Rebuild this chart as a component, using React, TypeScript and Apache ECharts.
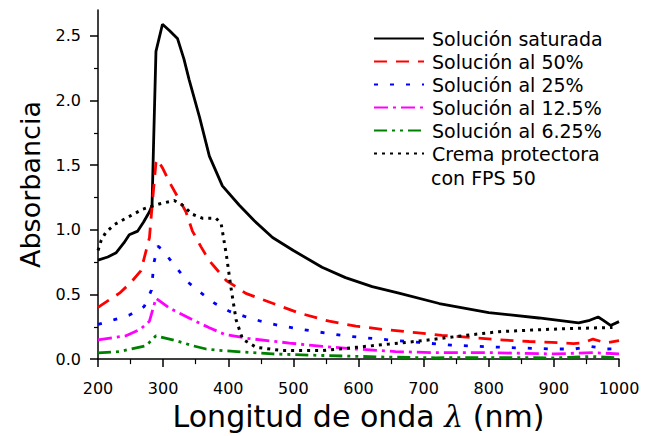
import React, { useEffect, useRef } from "react";
import * as echarts from "echarts";

// Solución saturada
const satX = [200, 215, 228, 240, 248, 261, 270, 279, 283, 285.5, 289, 299, 310, 322, 332, 340, 356, 371, 391, 417, 440, 468, 500, 544, 580, 621, 662, 724, 800, 877, 938, 955, 968, 976, 987, 1000];
const satY = [0.765, 0.79, 0.823, 0.9, 0.962, 0.99, 1.06, 1.14, 1.19, 1.7, 2.38, 2.59, 2.54, 2.48, 2.32, 2.16, 1.87, 1.57, 1.34, 1.19, 1.07, 0.94, 0.84, 0.71, 0.63, 0.56, 0.51, 0.43, 0.36, 0.318, 0.28, 0.3, 0.326, 0.3, 0.26, 0.29];
// Solución al 50%
const s50X = [200, 233, 250, 266, 279, 284, 289, 291, 300, 310, 335, 345, 358, 371, 397, 427, 468, 509, 555, 596, 637, 688, 728, 774, 816, 862, 897, 930, 945, 960, 970, 980, 1000];
const s50Y = [0.4, 0.51, 0.59, 0.684, 0.94, 1.24, 1.52, 1.545, 1.47, 1.366, 1.14, 0.99, 0.87, 0.76, 0.608, 0.508, 0.432, 0.356, 0.293, 0.255, 0.23, 0.205, 0.184, 0.167, 0.149, 0.136, 0.129, 0.12, 0.125, 0.155, 0.14, 0.125, 0.142];
// Solución al 25%
const s25X = [200, 225, 248, 271, 282, 286, 292, 300, 310, 338, 356, 379, 402, 425, 450, 478, 529, 581, 634, 693, 742, 795, 849, 903, 931, 956, 982, 1000];
const s25Y = [0.268, 0.305, 0.34, 0.407, 0.533, 0.748, 0.874, 0.84, 0.773, 0.596, 0.52, 0.432, 0.369, 0.331, 0.293, 0.26, 0.217, 0.179, 0.154, 0.129, 0.108, 0.096, 0.086, 0.078, 0.078, 0.098, 0.078, 0.08];
// Solución al 12.5%
const s12X = [200, 243, 265, 279, 289, 310, 345, 371, 394, 432, 494, 545, 596, 657, 714, 800, 850, 900, 960, 1000];
const s12Y = [0.149, 0.18, 0.23, 0.293, 0.47, 0.394, 0.305, 0.242, 0.192, 0.159, 0.124, 0.098, 0.078, 0.058, 0.05, 0.05, 0.045, 0.04, 0.05, 0.04];
// Solución al 6.25%
const s6X = [200, 233, 274, 289, 320, 345, 366, 391, 468, 545, 647, 718, 800, 900, 960, 1000];
const s6Y = [0.048, 0.058, 0.104, 0.18, 0.142, 0.104, 0.078, 0.066, 0.04, 0.028, 0.015, 0.01, 0.012, 0.01, 0.02, 0.01];
// Crema protectora con FPS 50
const cremaX = [200, 205, 212, 225, 243, 269, 294, 317, 330, 345, 360, 381, 389, 397, 404, 412, 422, 443, 483, 545, 596, 647, 698, 765, 816, 867, 918, 990];
const cremaY = [0.84, 0.92, 0.98, 1.04, 1.09, 1.16, 1.2, 1.227, 1.19, 1.12, 1.09, 1.09, 1.05, 0.81, 0.558, 0.305, 0.154, 0.091, 0.066, 0.066, 0.091, 0.116, 0.142, 0.184, 0.212, 0.225, 0.235, 0.245];

const seriesNames = [
  "Solución saturada",
  "Solución al 50%",
  "Solución al 25%",
  "Solución al 12.5%",
  "Solución al 6.25%",
  "Crema protectora con FPS 50",
];
const xTicks = [200, 300, 400, 500, 600, 700, 800, 900, 1000];
const yTicks = [0, 0.5, 1.0, 1.5, 2.0, 2.5];

const zip = (xs: number[], ys: number[]) => xs.map((x, i) => [x, ys[i]]);

export default function App() {
  const ref = useRef<HTMLDivElement>(null);
  useEffect(() => {
    if (!ref.current) return;
    const chart = echarts.init(ref.current, undefined, { renderer: "svg" });
    const font = "DejaVu Sans";
    const mk = (name: string, xs: number[], ys: number[], color: string, type: any, width: number) => ({
      name,
      type: "line",
      data: zip(xs, ys),
      symbol: "none",
      smooth: false,
      lineStyle: { color, width, type, cap: "butt" },
      itemStyle: { color },
      z: 3,
    });
    chart.setOption({
      animation: false,
      backgroundColor: "#ffffff",
      grid: { left: 98, top: 10, width: 521, height: 357, containLabel: false },
      legend: {
        orient: "vertical",
        left: 368,
        top: 24,
        itemWidth: 50,
        itemHeight: 14,
        itemGap: 4,
        selectedMode: false,
        data: seriesNames,
        itemStyle: { color: "transparent", borderWidth: 0, opacity: 0 },
        formatter: (n: string) => (n === "Crema protectora con FPS 50" ? "Crema protectora" : n),
        textStyle: { fontFamily: font, fontSize: 19, color: "#000", padding: [0, 0, 0, 3], lineHeight: 19 },
      },
      graphic: [
        {
          type: "text",
          left: 431,
          top: 168,
          style: { text: "con FPS 50", fontFamily: font, fontSize: 19, fill: "#000" },
        },
      ],
      xAxis: {
        type: "value",
        min: 200,
        max: 1000,
        interval: 100,
        name: "Longitud de onda {l|λ} (nm)",
        nameLocation: "middle",
        nameGap: 38,
        nameTextStyle: {
          fontFamily: font,
          fontSize: 30,
          color: "#000",
          rich: { l: { fontFamily: "DejaVu Serif", fontStyle: "italic", fontSize: 30, color: "#000" } },
        },
        axisLine: { show: true, onZero: false, lineStyle: { color: "#000", width: 1.5 } },
        axisTick: { show: true, inside: false, length: 8, lineStyle: { color: "#000", width: 1.5 } },
        minorTick: { show: true, splitNumber: 2, length: 5, lineStyle: { color: "#000", width: 1.2 } },
        axisLabel: {
          margin: 21,
          fontFamily: font,
          fontSize: 16,
          color: "#000",
          customValues: xTicks,
          formatter: (v: number) => String(v),
        },
        splitLine: { show: false },
      },
      yAxis: {
        type: "value",
        min: 0,
        max: 2.7,
        interval: 0.5,
        name: "Absorbancia",
        nameLocation: "middle",
        nameGap: 54,
        nameTextStyle: { fontFamily: font, fontSize: 27, color: "#000", padding: [0, 0, 0, 0] },
        axisLine: { show: true, onZero: false, lineStyle: { color: "#000", width: 1.5 } },
        axisTick: { show: true, inside: false, length: 8, customValues: yTicks, lineStyle: { color: "#000", width: 1.5 } },
        minorTick: { show: true, splitNumber: 2, length: 4, lineStyle: { color: "#000", width: 1.2 } },
        axisLabel: {
          margin: 17,
          fontFamily: font,
          fontSize: 16,
          color: "#000",
          customValues: yTicks,
          formatter: (v: number) => v.toFixed(1),
        },
        splitLine: { show: false },
      },
      series: [
        mk(seriesNames[0], satX, satY, "#000000", "solid", 2.8),
        mk(seriesNames[1], s50X, s50Y, "#ff0000", [13, 9], 2.8),
        mk(seriesNames[2], s25X, s25Y, "#0000ff", [4, 12], 2.8),
        mk(seriesNames[3], s12X, s12Y, "#ff00ff", [14, 5, 3, 5], 2.8),
        mk(seriesNames[4], s6X, s6Y, "#008000", [13, 5, 3, 5, 3, 5], 2.8),
        mk(seriesNames[5], cremaX, cremaY, "#000000", [3, 5], 3),
      ],
    });
    return () => chart.dispose();
  }, []);
  return <div ref={ref} style={{ position: "fixed", left: 0, top: 0, width: 645, height: 436 }} />;
}
